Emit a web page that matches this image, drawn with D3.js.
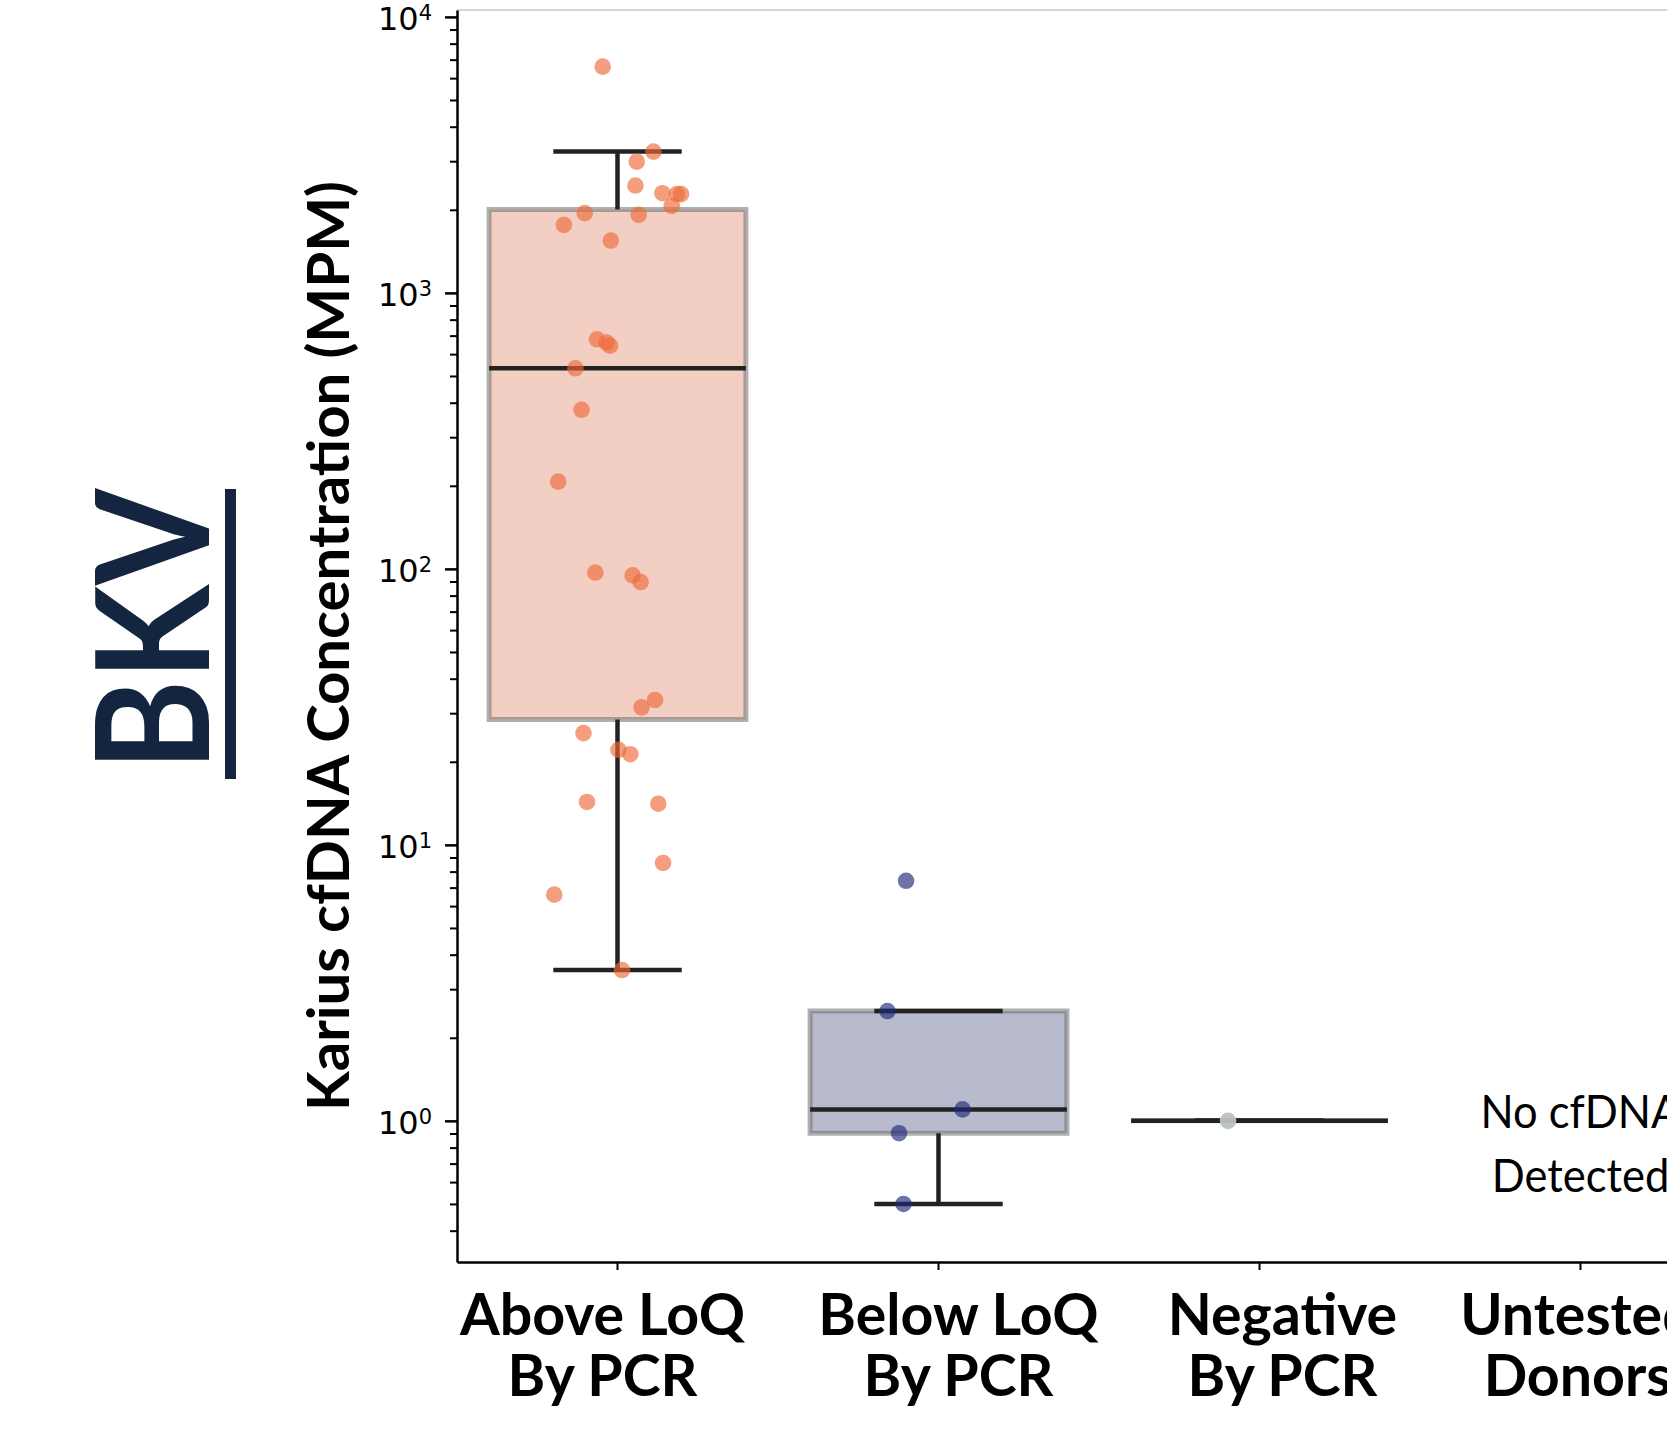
<!DOCTYPE html>
<html>
<head>
<meta charset="utf-8">
<script src="https://cdn.jsdelivr.net/npm/d3@7"></script>
<style>body{margin:0;background:#fff}svg{display:block}</style>
</head>
<body>
<script>
// ---------------- DATA ----------------
const categories = ["Above LoQ By PCR", "Below LoQ By PCR", "Negative By PCR", "Untested Donors"];
const categoryLines = [["Above LoQ", "By PCR"], ["Below LoQ", "By PCR"], ["Negative", "By PCR"], ["Untested", "Donors"]];
const aboveValues = [6607, 3250, 2990, 2449, 2297, 2279, 2279, 2066, 1945, 1918, 1763, 1548, 679, 661, 644, 533, 377, 207, 97, 94.7, 89.6, 33.5, 31.5, 25.4, 22.1, 21.3, 14.3, 14.1, 8.6, 6.6, 3.52];
const aboveJitter = [-0.046, 0.112, 0.060, 0.056, 0.140, 0.185, 0.198, 0.169, -0.102, 0.066, -0.167, -0.021, -0.064, -0.034, -0.023, -0.131, -0.112, -0.185, -0.069, 0.047, 0.072, 0.117, 0.075, -0.106, 0.003, 0.040, -0.095, 0.127, 0.142, -0.197, 0.014];
const belowValues = [7.41, 2.50, 1.10, 0.902, 0.50];
const belowJitter = [-0.101, -0.159, 0.075, -0.123, -0.109];
const negativeValues = [1];
const negativeJitter = [-0.098];
const untestedNote = ["No cfDNA", "Detected"];
const yTickExponents = [0, 1, 2, 3, 4];
const yLabel = "Karius cfDNA Concentration (MPM)";
const titleText = "BKV";

// ---------------- LAYOUT / STYLE ----------------
const W = 1667, H = 1445;
const plotLeft = 457, plotRight = 1741, plotTop = 10, plotBottom = 1262;
const labelDx = [-15, 20, 23, -3];

const svg = d3.select("body").append("svg").attr("width", W).attr("height", H);

const x = d3.scaleBand().domain(categories).range([plotLeft, plotRight]);
const y = d3.scaleLog().domain([0.308, 10593]).range([plotBottom, plotTop]);
const bw = x.bandwidth();
const boxW = bw * 0.8, capW = boxW / 2;
const cx = c => x(c) + bw / 2;

const groups = [
  {cat: categories[0], values: aboveValues, jitter: aboveJitter, point: "#EE6A3A", pOp: 0.65, box: "#F2CFC2"},
  {cat: categories[1], values: belowValues, jitter: belowJitter, point: "#1F2A78", pOp: 0.65, box: "#B8BACD"},
  {cat: categories[2], values: negativeValues, jitter: negativeJitter, point: "#BCC1C5", pOp: 0.95, box: "#D9D9D9"}
];

function stats(vals) {
  const s = vals.slice().sort(d3.ascending);
  const q1 = d3.quantileSorted(s, 0.25), med = d3.quantileSorted(s, 0.5), q3 = d3.quantileSorted(s, 0.75);
  const iqr = q3 - q1;
  const lo = d3.min(s.filter(v => v >= q1 - 1.5 * iqr));
  const hi = d3.max(s.filter(v => v <= q3 + 1.5 * iqr));
  return {q1, med, q3, lo, hi};
}

// top spine (light)
svg.append("line").attr("x1", plotLeft).attr("x2", plotRight).attr("y1", plotTop).attr("y2", plotTop)
  .attr("stroke", "#c8c8c8").attr("stroke-width", 1.5);

// boxes
const lineCol = "#222222";
const lw = 4.5;
groups.forEach(g => {
  const st = stats(g.values);
  const c = cx(g.cat);
  const gg = svg.append("g");
  const x0 = c - boxW / 2, x1 = c + boxW / 2, yT = y(st.q3), yB = y(st.q1);
  gg.append("path").attr("d", `M${x0},${yT}H${x1}V${yB}H${x0}Z`)
    .attr("fill", g.box).attr("stroke", "#707070").attr("stroke-opacity", 0.55).attr("stroke-width", 5);
  gg.append("line").attr("x1", c).attr("x2", c).attr("y1", yB).attr("y2", y(st.lo)).attr("stroke", lineCol).attr("stroke-width", lw);
  gg.append("line").attr("x1", c).attr("x2", c).attr("y1", yT).attr("y2", y(st.hi)).attr("stroke", lineCol).attr("stroke-width", lw);
  [st.lo, st.hi].forEach(v => {
    gg.append("line").attr("x1", c - capW / 2).attr("x2", c + capW / 2).attr("y1", y(v)).attr("y2", y(v))
      .attr("stroke", lineCol).attr("stroke-width", lw);
  });
  gg.append("line").attr("x1", x0).attr("x2", x1).attr("y1", y(st.med)).attr("y2", y(st.med))
    .attr("stroke", lineCol).attr("stroke-width", lw);
});

// points
groups.forEach(g => {
  const c = cx(g.cat);
  svg.append("g").selectAll("circle").data(g.values).join("circle")
    .attr("cx", (d, i) => c + g.jitter[i] * bw)
    .attr("cy", d => y(d))
    .attr("r", 8.3)
    .attr("fill", g.point).attr("fill-opacity", g.pOp);
});

// y axis major
const yAxis = d3.axisLeft(y).tickValues(yTickExponents.map(e => Math.pow(10, e)))
  .tickSize(12).tickSizeOuter(0).tickPadding(13).tickFormat(() => "");
const gy = svg.append("g").attr("transform", `translate(${plotLeft},0)`).call(yAxis);
gy.select(".domain").attr("stroke", "#000").attr("stroke-width", 2.5);
gy.selectAll(".tick line").attr("stroke", "#000").attr("stroke-width", 2.5);
gy.selectAll(".tick text").each(function(d) {
  const t = d3.select(this);
  t.attr("dy", null).attr("y", 13).attr("font-family", "DejaVu Sans").attr("font-size", 32).attr("fill", "#000");
  t.append("tspan").text("10");
  t.append("tspan").attr("dy", -10).attr("font-size", 21).text(Math.round(Math.log10(d)));
});
// y axis minor
const minorVals = [];
for (let e = -1; e <= 4; e++) for (let m = 2; m <= 9; m++) {
  const v = m * Math.pow(10, e);
  if (v >= y.domain()[0] && v <= y.domain()[1]) minorVals.push(v);
}
const gym = svg.append("g").attr("transform", `translate(${plotLeft},0)`)
  .call(d3.axisLeft(y).tickValues(minorVals).tickSize(7).tickSizeOuter(0).tickFormat(() => ""));
gym.select(".domain").remove();
gym.selectAll(".tick line").attr("stroke", "#000").attr("stroke-width", 2);

// x axis
const gx = svg.append("g").attr("transform", `translate(0,${plotBottom})`)
  .call(d3.axisBottom(x).tickSize(8).tickSizeOuter(0).tickFormat(() => ""));
gx.select(".domain").attr("stroke", "#000").attr("stroke-width", 2.5);
gx.selectAll(".tick line").attr("stroke", "#000").attr("stroke-width", 2);

// x labels
const xl = svg.append("g").attr("font-family", "Lato").attr("font-weight", 700).attr("font-size", 57).attr("fill", "#000");
const xTexts = [];
categories.forEach((c, i) => {
  categoryLines[i].forEach((ln, j) => {
    const t = xl.append("text").attr("x", cx(c) + labelDx[i]).attr("y", j === 0 ? 1335 : 1396)
      .attr("text-anchor", "middle").text(ln);
    xTexts.push(t);
  });
});
const kx = 285 / xTexts[0].node().getComputedTextLength();
xTexts.forEach(t => t.attr("textLength", t.node().getComputedTextLength() * kx).attr("lengthAdjust", "spacingAndGlyphs"));

// note for untested
const nt = svg.append("g").attr("font-family", "Lato").attr("font-size", 46).attr("fill", "#000");
const nTexts = untestedNote.map((ln, j) => nt.append("text").attr("x", cx(categories[3])).attr("y", j === 0 ? 1128 : 1192)
  .attr("text-anchor", "middle").text(ln));
const kn = 200 / nTexts[0].node().getComputedTextLength();
nTexts.forEach(t => t.attr("textLength", t.node().getComputedTextLength() * kn).attr("lengthAdjust", "spacingAndGlyphs"));

// y label
svg.append("text").attr("transform", "translate(349,646) rotate(-90)")
  .attr("text-anchor", "middle").attr("font-family", "Lato").attr("font-weight", 700).attr("font-size", 57)
  .attr("textLength", 930).attr("lengthAdjust", "spacingAndGlyphs").attr("fill", "#000").text(yLabel);

// title BKV
svg.append("text").attr("transform", "translate(209,630) rotate(-90)")
  .attr("text-anchor", "middle").attr("font-family", "Lato").attr("font-weight", 700).attr("font-size", 158)
  .attr("textLength", 282).attr("lengthAdjust", "spacingAndGlyphs").attr("fill", "#14263F").text(titleText);
svg.append("rect").attr("x", 225).attr("y", 489).attr("width", 11).attr("height", 290).attr("fill", "#14263F");
</script>
</body>
</html>
